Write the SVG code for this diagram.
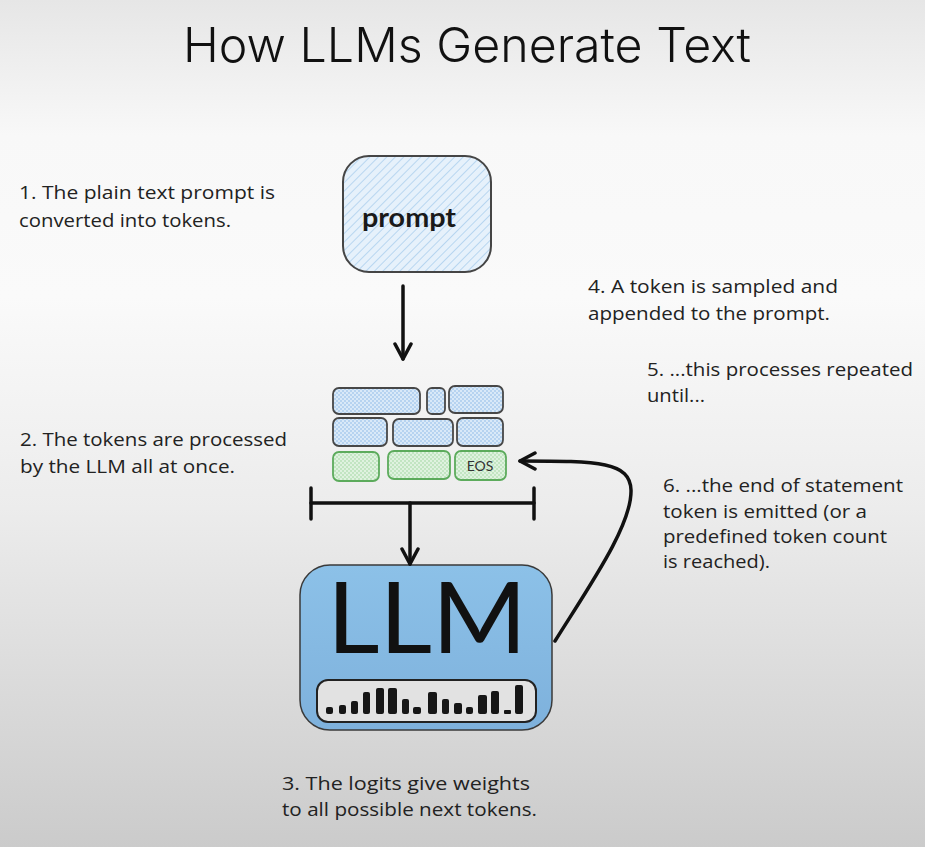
<svg xmlns="http://www.w3.org/2000/svg" width="925" height="847" viewBox="0 0 925 847">
<defs>
<linearGradient id="bg" x1="0" y1="0" x2="0" y2="1">
<stop offset="0" stop-color="#e6e6e6"/>
<stop offset="0.16" stop-color="#f8f8f8"/>
<stop offset="0.35" stop-color="#fafafa"/>
<stop offset="0.6" stop-color="#ececec"/>
<stop offset="1" stop-color="#cbcbcb"/>
</linearGradient>
<linearGradient id="llmfill" x1="0" y1="0" x2="0" y2="1">
<stop offset="0" stop-color="#8cc1e8"/>
<stop offset="1" stop-color="#7eb1dc"/>
</linearGradient>
<pattern id="hatch" width="6" height="6" patternUnits="userSpaceOnUse" patternTransform="rotate(45)">
<rect width="6" height="6" fill="#e6f1fb"/>
<line x1="0" y1="0" x2="0" y2="6" stroke="#b8d6f0" stroke-width="2"/>
</pattern>
<pattern id="dotsBlue" width="4" height="4" patternUnits="userSpaceOnUse">
<rect width="4" height="4" fill="#d9e9f8"/>
<rect width="2" height="2" fill="#b6d3f0"/>
<rect x="2" y="2" width="2" height="2" fill="#b6d3f0"/>
</pattern>
<pattern id="dotsGreen" width="4" height="4" patternUnits="userSpaceOnUse">
<rect width="4" height="4" fill="#dff2df"/>
<rect width="2" height="2" fill="#c2e5c2"/>
<rect x="2" y="2" width="2" height="2" fill="#c2e5c2"/>
</pattern>
<marker id="chev" viewBox="0 0 20 20" refX="18" refY="10" markerWidth="20" markerHeight="20" markerUnits="userSpaceOnUse" orient="auto">
<path d="M3,2 L18,10 L3,18" fill="none" stroke="#111" stroke-width="3.5" stroke-linecap="round" stroke-linejoin="round"/>
</marker>
</defs>
<style>
.note{font-family:"Open Sans","Noto Sans","Liberation Sans",sans-serif;font-size:19px;fill:#222;}
.tb{stroke:#474747;stroke-width:1.8;fill:url(#dotsBlue);}
.tg{stroke:#5cab5c;stroke-width:1.8;fill:url(#dotsGreen);}
.bar{fill:#161616;}
.conn{fill:none;stroke:#111;stroke-width:3.5;stroke-linecap:round;}
</style>
<rect width="925" height="847" fill="url(#bg)"/>

<text x="467" y="62" text-anchor="middle" font-family="Inter,'Liberation Sans',sans-serif" font-weight="300" font-size="48" fill="#111" textLength="568" lengthAdjust="spacingAndGlyphs">How LLMs Generate Text</text>

<g id="prompt">
<rect x="343" y="156" width="148" height="116" rx="26" fill="url(#hatch)" stroke="#454545" stroke-width="2"/>
<text x="409" y="227" text-anchor="middle" font-family="Lato,'Liberation Sans',sans-serif" font-weight="bold" font-size="26" fill="#1a1a1a" textLength="94" lengthAdjust="spacingAndGlyphs">prompt</text>
</g>

<g id="tokens">
<rect class="tb" x="333" y="388" width="87" height="26" rx="6"/>
<rect class="tb" x="427" y="388" width="18" height="26" rx="5"/>
<rect class="tb" x="449" y="386" width="54" height="27" rx="6"/>
<rect class="tb" x="333" y="418" width="54" height="28" rx="6"/>
<rect class="tb" x="393" y="419" width="60" height="27" rx="6"/>
<rect class="tb" x="457" y="418" width="46" height="28" rx="6"/>
<rect class="tg" x="333" y="452" width="46" height="29" rx="6"/>
<rect class="tg" x="388" y="451" width="62" height="28" rx="6"/>
<rect class="tg" x="455" y="451" width="51" height="29" rx="6"/>
<text x="480" y="471" text-anchor="middle" font-family="Lato,'Liberation Sans',sans-serif" font-size="14" fill="#333">EOS</text>
</g>

<g id="llm">
<rect x="300" y="565" width="252" height="165" rx="30" fill="url(#llmfill)" stroke="#3a3a3a" stroke-width="1.5"/>
<text x="427" y="653" text-anchor="middle" font-family="Lato,'Liberation Sans',sans-serif" font-size="98" fill="#111" textLength="200" lengthAdjust="spacingAndGlyphs">LLM</text>
<rect x="317" y="680" width="219" height="42" rx="11" fill="#e2e2e2" stroke="#222" stroke-width="2"/>
<rect class="bar" x="326" y="707" width="7" height="7" rx="2"/>
<rect class="bar" x="339" y="705" width="7" height="9" rx="2"/>
<rect class="bar" x="351" y="701" width="7" height="13" rx="2"/>
<rect class="bar" x="363" y="692" width="7" height="22" rx="2"/>
<rect class="bar" x="376" y="688" width="8" height="26" rx="2"/>
<rect class="bar" x="388" y="688" width="9" height="26" rx="2"/>
<rect class="bar" x="402" y="699" width="7" height="15" rx="2"/>
<rect class="bar" x="413" y="707" width="8" height="7" rx="2"/>
<rect class="bar" x="428" y="692" width="9" height="22" rx="2"/>
<rect class="bar" x="442" y="699" width="7" height="15" rx="2"/>
<rect class="bar" x="454" y="703" width="8" height="11" rx="2"/>
<rect class="bar" x="466" y="707" width="7" height="7" rx="2"/>
<rect class="bar" x="478" y="695" width="9" height="19" rx="2"/>
<rect class="bar" x="491" y="691" width="8" height="23" rx="2"/>
<rect class="bar" x="504" y="710" width="7" height="4" rx="1"/>
<rect class="bar" x="515" y="685" width="8" height="29" rx="2"/>
</g>

<g id="notes">
<text class="note" x="19" y="199" textLength="256" lengthAdjust="spacingAndGlyphs">1. The plain text prompt is</text>
<text class="note" x="19" y="227" textLength="212" lengthAdjust="spacingAndGlyphs">converted into tokens.</text>
<text class="note" x="20" y="446" textLength="267" lengthAdjust="spacingAndGlyphs">2. The tokens are processed</text>
<text class="note" x="20" y="473" textLength="215" lengthAdjust="spacingAndGlyphs">by the LLM all at once.</text>
<text class="note" x="282" y="790" textLength="248" lengthAdjust="spacingAndGlyphs">3. The logits give weights</text>
<text class="note" x="282" y="816" textLength="255" lengthAdjust="spacingAndGlyphs">to all possible next tokens.</text>
<text class="note" x="588" y="293" textLength="250" lengthAdjust="spacingAndGlyphs">4. A token is sampled and</text>
<text class="note" x="588" y="320" textLength="242" lengthAdjust="spacingAndGlyphs">appended to the prompt.</text>
<text class="note" x="647" y="376" textLength="266" lengthAdjust="spacingAndGlyphs">5. ...this processes repeated</text>
<text class="note" x="647" y="402" textLength="58" lengthAdjust="spacingAndGlyphs">until...</text>
<text class="note" x="663" y="492" textLength="240" lengthAdjust="spacingAndGlyphs">6. ...the end of statement</text>
<text class="note" x="663" y="518" textLength="204" lengthAdjust="spacingAndGlyphs">token is emitted (or a</text>
<text class="note" x="663" y="543" textLength="224" lengthAdjust="spacingAndGlyphs">predefined token count</text>
<text class="note" x="663" y="568" textLength="107" lengthAdjust="spacingAndGlyphs">is reached).</text>
</g>

<g id="connectors">
<line class="conn" x1="403" y1="286" x2="403" y2="359" marker-end="url(#chev)"/>
<line class="conn" x1="311" y1="503" x2="534" y2="503"/>
<line class="conn" x1="311" y1="488" x2="311" y2="519"/>
<line class="conn" x1="534" y1="488" x2="534" y2="519"/>
<line class="conn" x1="410" y1="503" x2="410" y2="564" marker-end="url(#chev)"/>
<path class="conn" d="M555,641 C590,585 632,525 631,490 C630,462 600,461 520,461" marker-end="url(#chev)"/>
</g>
</svg>
